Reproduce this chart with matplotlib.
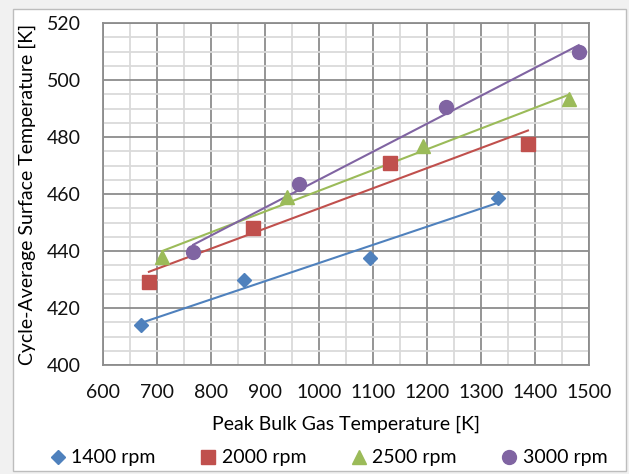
import numpy as np
import matplotlib.pyplot as plt
from matplotlib.patches import Rectangle
from matplotlib.ticker import MultipleLocator

plt.rcParams['font.family'] = ['Lato', 'DejaVu Sans']

# Peak bulk gas temperature [K] vs cycle-average surface temperature [K]
x_1400 = [670, 861, 1094, 1331]
y_1400 = [414.0, 430.0, 437.7, 458.6]
x_2000 = [685, 878, 1131, 1387]
y_2000 = [429.0, 448.0, 471.0, 477.5]
x_2500 = [709, 941, 1193, 1463]
y_2500 = [438.0, 458.8, 476.8, 493.2]
x_3000 = [767, 963, 1235, 1481]
y_3000 = [439.8, 463.5, 490.6, 510.0]

labels = ['1400 rpm', '2000 rpm', '2500 rpm', '3000 rpm']
colors = ['#4F81BD', '#C0504D', '#9BBB59', '#8064A2']
markers = ['D', 's', '^', 'o']
sizes = [7.5, 9.5, 10.5, 10]

fig = plt.figure(figsize=(6.29, 4.74), dpi=100, facecolor='#f1f1f1')
fig.patches.append(Rectangle((13 / 629, 1 - 471 / 474), 613 / 629, 462 / 474,
                             transform=fig.transFigure, facecolor='white',
                             edgecolor='#bdbdbd', linewidth=1.0, zorder=-5))

ax = fig.add_axes([103 / 629, 1 - 365 / 474, 486 / 629, 342 / 474])
ax.set_facecolor('white')

series = [(x_1400, y_1400), (x_2000, y_2000), (x_2500, y_2500), (x_3000, y_3000)]
handles = []
for (xs, ys), lab, c, m, s in zip(series, labels, colors, markers, sizes):
    xs = np.array(xs, dtype=float)
    ys = np.array(ys, dtype=float)
    # linear trendline over the range of each series
    k, b = np.polyfit(xs, ys, 1)
    xl = np.array([xs.min(), xs.max()])
    ax.plot(xl, k * xl + b, color=c, lw=1.5, zorder=3)
    h, = ax.plot(xs, ys, ls='none', marker=m, ms=s, color=c, mec=c, label=lab, zorder=4)
    handles.append(h)

ax.set_xlim(600, 1500)
ax.set_ylim(400, 520)
ax.xaxis.set_major_locator(MultipleLocator(100))
ax.xaxis.set_minor_locator(MultipleLocator(50))
ax.yaxis.set_major_locator(MultipleLocator(20))
ax.yaxis.set_minor_locator(MultipleLocator(5))
ax.grid(which='minor', color='#dadada', lw=1.3, zorder=1)
ax.grid(which='major', color='#8c8c8c', lw=1.3, zorder=2)
ax.set_axisbelow(True)
for sp in ax.spines.values():
    sp.set_color('#8c8c8c')
    sp.set_linewidth(1.3)
ax.tick_params(which='both', length=0, labelsize=14, colors='#111111')
ax.tick_params(axis='x', pad=14)
ax.tick_params(axis='y', pad=16)

ax.set_xlabel('Peak Bulk Gas Temperature [K]', fontsize=14, labelpad=10)
ax.set_ylabel('Cycle-Average Surface Temperature [K]', fontsize=14, labelpad=8)

fig.legend(handles=handles, loc='center', ncol=4, frameon=False, fontsize=14,
           bbox_to_anchor=(0.518, 1 - 458 / 474), handletextpad=0.0,
           columnspacing=2.0, handlelength=1.4)

fig.savefig('out.png', dpi=100, facecolor=fig.get_facecolor())
